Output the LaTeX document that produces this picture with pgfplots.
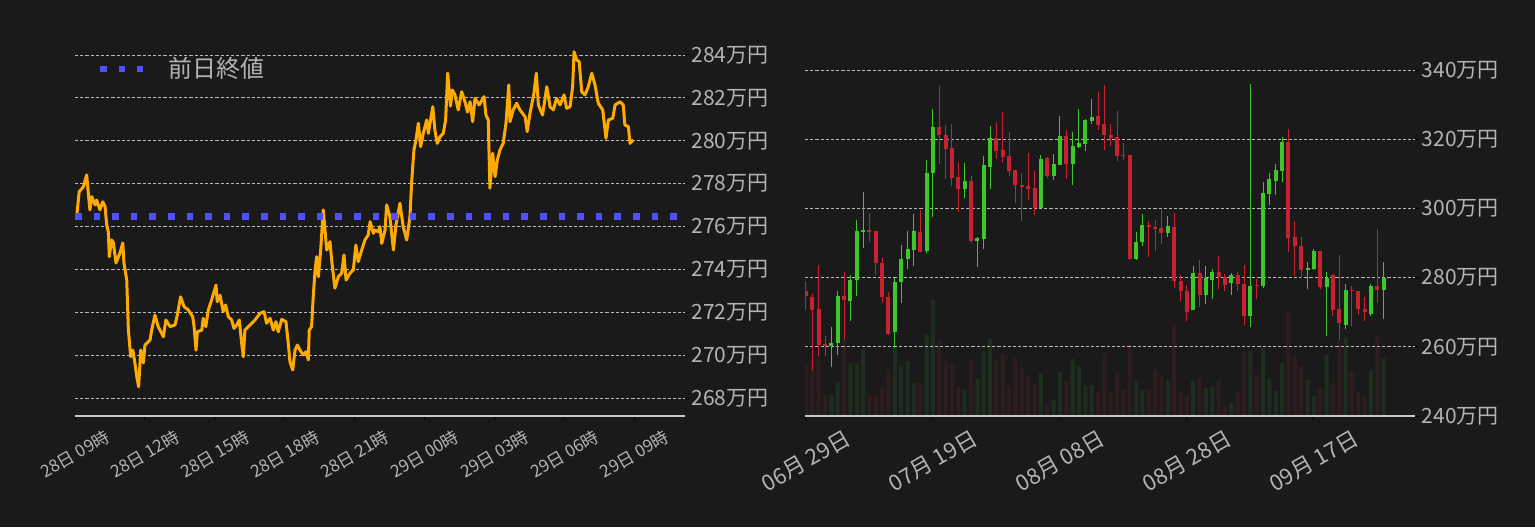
\documentclass[border=0pt]{standalone}
\usepackage{fontspec}
\setmainfont{Noto Sans CJK JP}
\usepackage{pgfplots}
\pgfplotsset{compat=1.18}
\usepackage{pgfplotstable}

\definecolor{bg}{RGB}{26,26,26}
\definecolor{txt}{RGB}{180,180,180}
\definecolor{gridc}{RGB}{185,185,185}
\definecolor{spine}{RGB}{200,200,200}
\definecolor{lineor}{RGB}{255,170,0}
\definecolor{prevblue}{RGB}{80,80,255}
\definecolor{cup}{RGB}{60,200,40}
\definecolor{cdown}{RGB}{200,34,48}
\definecolor{vup}{RGB}{30,46,30}
\definecolor{vdown}{RGB}{46,28,30}

% intraday price: hours after 28日 09時, 万円
\pgfplotstableread{
h v
0.07 276.46
0.18 277.63
0.36 277.86
0.50 278.41
0.57 277.57
0.64 276.78
0.72 277.40
0.86 277.01
0.93 277.24
1.07 276.78
1.19 277.16
1.29 276.93
1.36 276.08
1.43 275.75
1.47 274.60
1.57 275.38
1.64 275.28
1.76 274.31
1.93 274.77
2.05 275.24
2.10 274.31
2.22 273.51
2.29 271.18
2.39 269.94
2.48 270.25
2.57 269.65
2.65 269.01
2.73 268.54
2.82 270.25
2.93 269.65
3.00 270.48
3.22 270.72
3.29 271.18
3.43 271.88
3.57 271.34
3.79 270.87
3.90 271.65
4.08 271.34
4.29 271.42
4.39 271.88
4.53 272.73
4.68 272.27
4.86 272.12
5.05 271.80
5.11 271.34
5.19 270.25
5.25 271.10
5.44 271.18
5.50 271.73
5.61 271.34
5.72 272.12
5.86 272.58
6.05 273.28
6.10 272.50
6.22 272.81
6.36 272.04
6.46 272.35
6.58 271.80
6.72 271.65
6.82 271.26
6.94 271.42
7.05 271.65
7.15 270.56
7.22 269.94
7.29 271.18
7.51 271.42
7.72 271.65
7.94 271.96
8.11 272.04
8.22 271.50
8.37 271.73
8.51 271.18
8.62 271.57
8.72 271.10
8.87 271.68
9.05 271.57
9.15 270.56
9.22 269.71
9.34 269.32
9.44 270.25
9.54 270.48
9.65 270.25
9.79 270.02
9.91 270.17
10.01 269.79
10.05 271.18
10.15 271.34
10.22 272.73
10.30 273.98
10.37 274.60
10.44 273.67
10.54 274.91
10.65 276.78
10.80 274.91
10.94 275.30
11.01 274.45
11.15 273.13
11.30 273.67
11.44 273.83
11.54 274.68
11.63 273.51
11.80 273.83
11.94 273.98
12.05 275.14
12.15 274.37
12.30 274.91
12.44 275.38
12.58 275.61
12.66 276.23
12.80 275.69
12.87 275.84
13.01 275.76
13.08 276.00
13.16 275.22
13.30 275.84
13.37 277.01
13.51 276.46
13.66 274.91
13.77 276.08
13.94 277.09
14.08 276.00
14.23 275.38
14.37 276.46
14.44 278.02
14.54 279.57
14.63 280.04
14.73 280.82
14.83 279.73
14.94 280.35
15.09 280.97
15.16 280.35
15.35 281.59
15.44 280.50
15.54 279.88
15.66 280.19
15.80 280.35
15.90 280.97
15.99 283.15
16.11 281.62
16.19 282.37
16.30 282.14
16.44 281.44
16.59 282.29
16.73 281.82
16.84 281.34
16.95 281.82
17.06 280.89
17.16 281.98
17.34 281.67
17.55 282.06
17.63 281.20
17.73 280.97
17.80 277.79
17.92 279.42
18.02 278.33
18.12 279.11
18.23 279.57
18.37 279.88
18.49 280.82
18.61 282.60
18.66 280.89
18.80 281.44
18.95 281.75
19.09 281.44
19.31 281.12
19.40 280.43
19.52 281.28
19.69 282.22
19.79 283.15
19.88 281.67
20.06 281.20
20.24 282.52
20.38 281.59
20.52 281.44
20.66 281.98
20.81 281.67
20.98 282.14
21.09 281.52
21.24 281.59
21.35 282.52
21.41 284.15
21.52 283.77
21.63 283.69
21.74 282.29
21.88 282.14
22.02 282.52
22.17 283.15
22.31 282.60
22.45 281.75
22.64 281.44
22.78 280.12
22.88 280.97
23.07 281.05
23.17 281.67
23.38 281.82
23.52 281.67
23.59 280.74
23.74 280.66
23.81 279.88
23.95 280.04
}\intraday

% daily candles, d = days after 06月29日
\pgfplotstableread{
d o h l c
4 260.3 265.7 254.3 261.2
5 261.0 276.2 257.7 274.8
7 273.1 280.8 267.4 279.4
8 279.2 296.7 274.8 293.5
9 293.3 304.8 288.7 293.8
14 264.2 279.9 259.6 278.7
15 278.6 289.5 272.8 285.5
16 285.5 293.5 282.6 288.4
17 288.1 298.5 283.4 293.5
19 287.6 314.1 287.1 310.3
20 310.1 328.8 297.6 323.6
25 305.7 313.2 303.1 308.0
27 290.7 291.8 283.2 291.5
28 291.2 315.2 288.4 312.6
29 312.1 323.9 305.7 320.4
37 300.2 315.5 300.2 314.4
39 309.5 315.8 308.3 312.9
40 312.6 326.8 312.6 321.0
42 312.9 322.2 306.8 318.1
43 317.8 328.8 317.5 319.0
44 318.7 325.9 316.7 325.6
45 325.4 331.7 324.5 326.5
52 285.5 293.3 285.2 290.4
53 290.2 298.5 289.0 295.3
57 293.0 297.9 291.8 295.0
61 270.5 283.4 270.5 281.3
63 275.1 283.4 272.5 279.9
64 279.2 282.5 273.9 281.6
67 278.4 281.3 274.9 280.8
70 269.0 336.0 265.7 277.7
72 277.5 307.6 277.0 304.5
73 304.2 310.3 301.1 308.6
74 308.0 312.9 304.0 311.2
75 310.9 320.7 307.7 319.3
79 282.1 284.5 276.8 282.9
80 282.6 288.4 282.1 287.8
82 277.2 281.7 263.0 279.9
85 266.4 278.2 265.2 276.5
89 269.6 278.2 269.0 277.7
91 276.3 284.6 268.1 279.9
}\up

\pgfplotstableread{
d o h l c
0 276.0 278.9 270.5 274.6
1 274.4 275.3 253.2 270.7
2 271.0 283.7 257.2 260.6
3 260.9 263.2 257.2 260.3
6 274.8 281.7 262.3 273.4
10 293.8 298.8 290.4 293.3
11 293.5 293.5 280.8 284.2
12 284.3 285.7 272.8 274.3
13 274.4 275.7 263.5 263.8
18 293.3 299.6 287.3 287.3
21 323.6 335.5 312.9 321.3
22 321.3 324.2 308.6 317.3
23 317.5 324.5 306.6 308.9
24 309.2 313.5 299.1 305.7
26 308.0 309.5 290.1 290.7
30 320.4 325.1 314.4 316.7
31 317.0 328.0 313.2 315.0
32 315.2 322.2 309.5 310.9
33 311.2 311.2 301.6 306.9
34 306.9 310.3 296.5 306.3
35 306.6 316.1 302.5 305.7
36 306.0 310.9 298.2 300.2
38 314.7 314.9 308.9 309.5
41 321.0 322.8 308.6 312.9
46 326.8 333.7 322.8 324.2
47 324.5 335.8 317.0 321.3
48 321.3 324.5 318.1 320.4
49 320.7 328.2 313.8 315.2
50 315.5 319.0 314.1 315.2
51 315.5 315.5 285.2 285.5
54 295.3 296.5 286.1 294.5
55 294.7 296.7 287.6 294.1
56 294.4 299.6 289.8 293.0
58 294.7 298.8 277.0 278.9
59 278.9 280.8 273.1 276.0
60 276.2 277.9 267.4 270.2
62 281.3 285.2 271.4 274.9
65 281.6 286.3 276.8 280.1
66 280.2 281.1 276.0 277.9
68 280.8 281.6 276.0 278.1
69 278.1 283.7 266.4 269.0
71 277.9 279.6 273.9 277.5
76 319.3 323.0 287.3 291.5
77 291.8 296.5 280.5 289.0
78 289.2 291.8 279.9 282.1
81 287.8 287.8 276.7 277.2
83 280.8 281.0 269.0 270.7
84 271.0 286.6 261.9 266.9
86 276.5 277.7 265.9 276.0
87 276.2 276.2 269.3 271.0
88 271.0 274.4 267.4 270.0
90 277.7 294.1 272.6 276.3
}\down

% volume (relative bar height)
\pgfplotstableread{
d v
4 21
5 34
7 53
8 52
9 67
14 68
15 50
16 55
17 33
19 81
20 116
25 27
27 37
28 65
29 77
37 43
39 16
40 44
42 57
43 50
44 30
45 31
52 35
53 25
57 35
61 35
63 28
64 29
67 13
70 65
72 68
73 37
74 25
75 53
79 36
80 20
82 61
85 79
89 46
91 58
}\volup

\pgfplotstableread{
d v
0 51
1 57
2 58
3 21
6 77
10 19
11 20
12 29
13 46
18 33
21 75
22 57
23 53
24 30
26 55
30 56
31 62
32 30
33 58
34 48
35 39
36 32
38 12
41 34
46 24
47 63
48 24
49 44
50 26
51 72
54 26
55 47
56 41
58 92
59 25
60 21
62 39
65 35
66 10
68 23
69 64
71 41
76 104
77 58
78 50
81 29
83 33
84 75
86 45
87 24
88 19
90 80
}\voldown

\pgfplotsset{
  darkax/.style={
    scale only axis,
    anchor=south west,
    axis x line*=bottom,
    axis y line*=right,
    x axis line style={draw=spine, line width=1pt},
    y axis line style={draw=none},
    tick align=outside,
    major tick length=2pt,
    tick style={black, line width=0.5pt},
    ymajorgrids,
    grid style={gridc, line width=0.45pt, dash pattern=on 1.6pt off 1pt},
    ticklabel style={text=txt},
    yticklabel style={font=\fontsize{10.5}{12}\selectfont, anchor=west, inner sep=0pt, xshift=1pt},
  },
  candle/.style 2 args={draw=none, mark=none, forget plot,
    error bars/.cd, y dir=plus, y explicit, error mark=none,
    error bar style={solid, draw=#1, line width=#2}},
}

\begin{document}
\begin{tikzpicture}
\fill[bg] (0,0) rectangle (767.5pt,263.5pt);

% ---- left: intraday ----
\begin{axis}[darkax,
  at={(37.5pt,55.5pt)}, width=305pt, height=186.95pt,
  xmin=0, xmax=26.17, ymin=267.175, ymax=284.6,
  xtick={0,3,...,24},
  xticklabels={28日 09時,28日 12時,28日 15時,28日 18時,28日 21時,29日 00時,29日 03時,29日 06時,29日 09時},
  xticklabel style={font=\fontsize{8.5}{10}\selectfont, anchor=center, yshift=-17pt, rotate=30},
  ytick={268,270,...,284},
  yticklabels={268万円,270万円,272万円,274万円,276万円,278万円,280万円,282万円,284万円},
  legend style={draw=none, fill=none, at={(rel axis cs:0.035,0.928)}, anchor=west,
    inner sep=0pt, font=\fontsize{12}{14}\selectfont, text=txt, column sep=9pt},
  legend image code/.code={\draw[#1] (0pt,0pt) -- (21.6pt,0pt);},
]
\addplot[lineor, line width=1.5pt, line join=round, forget plot] table[x=h, y=v] {\intraday};
\addplot[prevblue, line width=3.3pt, dash pattern=on 3.3pt off 6pt] coordinates {(0,276.47) (26.17,276.47)};
\addlegendentry{前日終値}
\end{axis}

% ---- right: volume underlay ----
\begin{axis}[scale only axis, anchor=south west, hide axis,
  at={(402.5pt,55.5pt)}, width=305.2pt, height=190.3pt,
  xmin=-0.15, xmax=96, ymin=0, ymax=380.6]
\addplot[ybar, bar width=2pt, bar shift=0pt, fill=vup, draw=none] table[x=d, y=v] {\volup};
\addplot[ybar, bar width=2pt, bar shift=0pt, fill=vdown, draw=none] table[x=d, y=v] {\voldown};
\end{axis}

% ---- right: daily candles ----
\begin{axis}[darkax,
  at={(402.5pt,55.5pt)}, width=305.2pt, height=190.3pt,
  xmin=-0.15, xmax=96, ymin=240, ymax=350,
  xtick={0,20,40,60,80},
  xticklabels={06月 29日,07月 19日,08月 08日,08月 28日,09月 17日},
  xticklabel style={font=\fontsize{11}{13}\selectfont, anchor=center, yshift=-20.5pt, rotate=30},
  ytick={240,260,...,340},
  yticklabels={240万円,260万円,280万円,300万円,320万円,340万円},
]
% wicks
\addplot[candle={cup}{0.5pt}]
  table[x=d, y=l, y error plus expr=\thisrow{h}-\thisrow{l}] {\up};
\addplot[candle={cdown}{0.5pt}]
  table[x=d, y=l, y error plus expr=\thisrow{h}-\thisrow{l}] {\down};
% bodies
\addplot[candle={cup}{2pt}]
  table[x=d, y=o, y error plus expr=\thisrow{c}-\thisrow{o}] {\up};
\addplot[candle={cdown}{2pt}]
  table[x=d, y=c, y error plus expr=\thisrow{o}-\thisrow{c}] {\down};
\end{axis}

\pgfresetboundingbox
\useasboundingbox (0,0) rectangle (767.5pt,263.5pt);
\end{tikzpicture}
\end{document}
